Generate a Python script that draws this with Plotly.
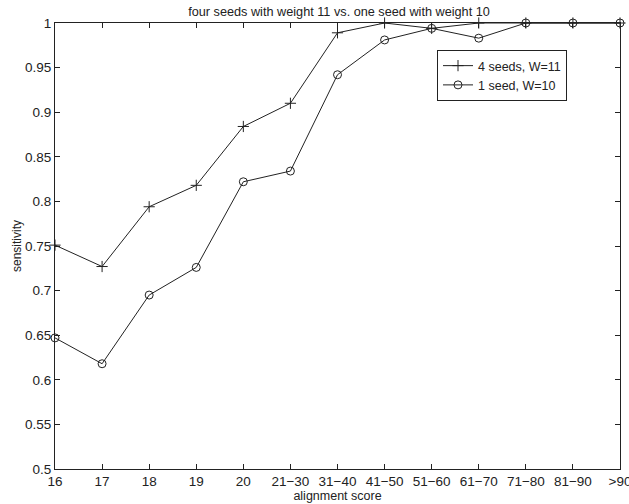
import plotly.graph_objects as go

categories = ["16", "17", "18", "19", "20", "21−30", "31−40", "41−50",
              "51−60", "61−70", "71−80", "81−90", ">90"]
four_seeds_w11 = [0.751, 0.727, 0.794, 0.818, 0.884, 0.910, 0.989, 1.0,
                  0.994, 1.0, 1.0, 1.0, 1.0]
one_seed_w10 = [0.647, 0.618, 0.695, 0.726, 0.822, 0.834, 0.942, 0.981,
                0.994, 0.983, 1.0, 1.0, 1.0]
y_ticks = [0.5, 0.55, 0.6, 0.65, 0.7, 0.75, 0.8, 0.85, 0.9, 0.95, 1]
y_tick_text = ["0.5", "0.55", "0.6", "0.65", "0.7", "0.75", "0.8", "0.85",
               "0.9", "0.95", "1"]

xi = list(range(len(categories)))
font = "Liberation Sans, Arial, sans-serif"

fig = go.Figure()
fig.add_trace(go.Scatter(
    x=xi, y=four_seeds_w11, mode="lines+markers", name="4 seeds, W=11",
    line=dict(color="#222", width=1),
    marker=dict(symbol="cross-thin", size=8, line=dict(color="#222", width=1)),
    cliponaxis=False))
fig.add_trace(go.Scatter(
    x=xi, y=one_seed_w10, mode="lines+markers", name="1 seed, W=10",
    line=dict(color="#222", width=1),
    marker=dict(symbol="circle-open", size=8, color="#222", line=dict(width=1)),
    cliponaxis=False))

fig.update_layout(
    width=629, height=504,
    margin=dict(l=55, r=9, t=23, b=35, autoexpand=False),
    paper_bgcolor="white", plot_bgcolor="white",
    font=dict(family=font, size=12, color="#222"),
    title=dict(text="four seeds with weight 11 vs. one seed with weight 10",
               x=339 / 629, xanchor="center", y=1 - 12 / 504, yanchor="middle",
               font=dict(size=12.7, family=font, color="#222")),
    showlegend=True,
    legend=dict(x=(437 - 55) / 565, y=1 - (50 - 23) / 446, yref="paper",
                xanchor="left", yanchor="top",
                bgcolor="white", bordercolor="#222", borderwidth=1,
                font=dict(size=12.5, family=font), tracegroupgap=0,
                itemwidth=30),
)

fig.update_xaxes(
    range=[0, len(categories) - 1], tickmode="array", tickvals=xi, ticktext=categories,
    ticks="inside", ticklen=5, tickcolor="#222", showline=True, linecolor="#222",
    linewidth=1, mirror="ticks", showgrid=False, zeroline=False, automargin=False,
    ticklabeloverflow="allow",
    title=dict(text="alignment score", font=dict(size=12.5), standoff=0),
    tickfont=dict(size=13.5))
fig.update_yaxes(
    range=[0.5, 1], tickmode="array", tickvals=y_ticks, ticktext=y_tick_text,
    ticks="inside", ticklen=5, tickcolor="#222", showline=True, linecolor="#222",
    linewidth=1, mirror="ticks", showgrid=False, zeroline=False, automargin=False,
    ticklabeloverflow="allow",
    title=dict(text="sensitivity", font=dict(size=12), standoff=0),
    tickfont=dict(size=13.5))

fig.write_html("out.html", config={"displayModeBar": False},
               post_script="document.body.style.margin='0';")
